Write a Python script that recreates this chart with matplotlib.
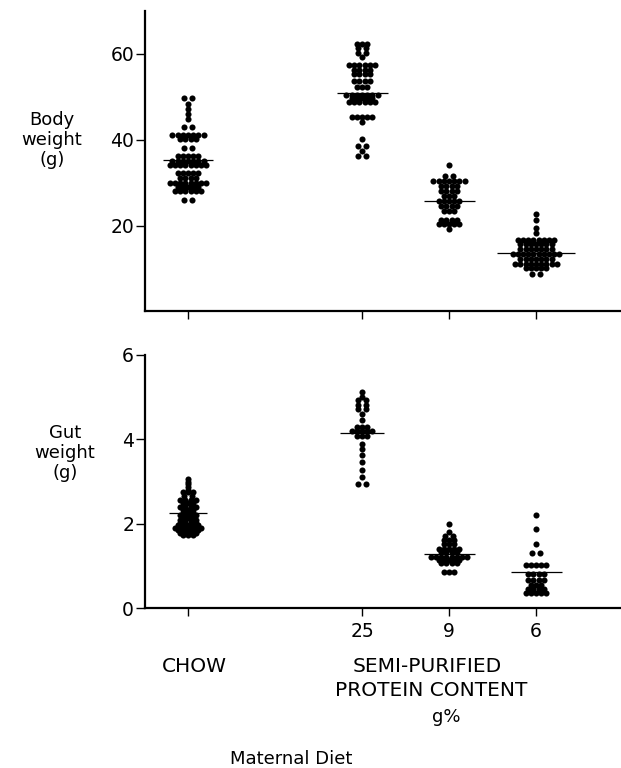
import matplotlib
matplotlib.use('Agg')
import matplotlib.pyplot as plt
import numpy as np

plt.rcParams['font.family'] = ['DejaVu Sans']

# ---------------- data ----------------
groups = ['CHOW', '25', '9', '6']
group_pos = [0, 2, 3, 4]
xtick_labels = ['', '25', '9', '6']

body_chow = [49.8, 49.8, 48.4, 47.2, 46.0, 44.9, 43.0, 43.0,
             41.2, 41.2, 41.2, 41.2, 41.2, 41.2, 41.2,
             40.2, 40.2, 40.2, 40.2, 38.1, 38.1,
             36.1, 36.1, 36.1, 36.1, 36.1,
             35.0, 35.0, 35.0, 35.0, 35.0, 35.0, 35.0,
             34.0, 34.0, 34.0, 34.0, 34.0, 34.0, 34.0, 34.0,
             32.3, 32.3, 32.3, 32.3, 32.3,
             31.0, 31.0, 31.0, 31.0,
             30.0, 30.0, 30.0, 30.0, 30.0, 30.0, 30.0, 30.0,
             29.0, 29.0, 29.0, 29.0, 29.0,
             28.1, 28.1, 28.1, 28.1, 28.1, 28.1,
             25.9, 25.9]
body_25 = [62.3, 62.3, 62.3, 61.3, 61.3, 60.2, 60.2, 59.2,
           57.4, 57.4, 57.4, 57.4, 57.4, 57.4,
           56.3, 56.3, 56.3, 56.3, 55.4, 55.4, 55.4, 55.4,
           53.6, 53.6, 53.6, 53.6, 52.3, 52.3, 52.3,
           50.5, 50.5, 50.5, 50.5, 50.5, 50.5, 50.5,
           49.7, 49.7, 49.7, 49.7, 49.7,
           48.8, 48.8, 48.8, 48.8, 48.8, 48.8,
           45.3, 45.3, 45.3, 45.3, 45.3, 44.1,
           40.2, 38.5, 38.5, 37.3, 36.1, 36.1]
body_9 = [34.0, 31.5, 31.5,
          30.3, 30.3, 30.3, 30.3, 30.3, 30.3, 30.3,
          29.2, 29.2, 29.2, 29.2, 28.0, 28.0, 28.0, 28.0,
          26.9, 26.9, 26.9, 25.7, 25.7, 25.7, 25.7, 25.7,
          24.5, 24.5, 24.5, 24.5, 23.3, 23.3, 23.3,
          21.4, 21.4, 21.4, 21.4, 20.3, 20.3, 20.3, 20.3, 20.3, 19.1]
body_6 = [22.6, 21.4, 19.5, 18.3,
          16.6, 16.6, 16.6, 16.6, 16.6, 16.6, 16.6, 16.6,
          15.6, 15.6, 15.6, 15.6, 15.6, 15.6, 15.6,
          14.6, 14.6, 14.6, 14.6, 14.6, 14.6, 14.6,
          13.3, 13.3, 13.3, 13.3, 13.3, 13.3, 13.3, 13.3, 13.3, 13.3,
          12.1, 12.1, 12.1, 12.1, 12.1, 12.1, 12.1,
          11.1, 11.1, 11.1, 11.1, 11.1, 11.1, 11.1, 11.1, 11.1,
          10.0, 10.0, 10.0, 10.0, 10.0, 8.6, 8.6]
body_means = [35.3, 51.0, 25.8, 13.5]

gut_chow = [3.07, 3.00, 2.95, 2.87, 2.80, 2.74, 2.74, 2.74, 2.66, 2.66,
            2.56, 2.56, 2.56, 2.56, 2.48, 2.48, 2.48,
            2.40, 2.40, 2.40, 2.40, 2.32, 2.32, 2.32,
            2.25, 2.25, 2.25, 2.20, 2.20, 2.20, 2.20,
            2.14, 2.14, 2.14, 2.08, 2.08, 2.08, 2.08,
            2.02, 2.02, 2.02, 2.02, 1.96, 1.96, 1.96, 1.96, 1.96,
            1.90, 1.90, 1.90, 1.90, 1.90, 1.90,
            1.84, 1.84, 1.84, 1.84, 1.84, 1.78, 1.78, 1.78, 1.78,
            1.73, 1.73, 1.73]
gut_25 = [5.13, 5.01, 4.93, 4.93, 4.81, 4.81, 4.71, 4.71, 4.59, 4.47,
          4.30, 4.30, 4.30, 4.19, 4.19, 4.19, 4.19, 4.19,
          4.07, 4.07, 4.07, 3.90, 3.78, 3.63, 3.47, 3.27, 3.10,
          2.95, 2.95]
gut_9 = [1.99, 1.81, 1.71, 1.71, 1.61, 1.61, 1.61, 1.51, 1.51, 1.51,
         1.41, 1.41, 1.41, 1.41, 1.41, 1.32, 1.32, 1.32, 1.32,
         1.22, 1.22, 1.22, 1.22, 1.22, 1.22, 1.22, 1.22,
         1.14, 1.14, 1.14, 1.14, 1.14, 1.06, 1.06, 1.06, 1.06,
         0.86, 0.86, 0.86]
gut_6 = [2.20, 1.87, 1.51, 1.30, 1.30,
         1.02, 1.02, 1.02, 1.02, 1.02, 0.80, 0.80, 0.80, 0.80,
         0.66, 0.66, 0.66, 0.66, 0.55, 0.55, 0.55,
         0.45, 0.45, 0.45, 0.45, 0.35, 0.35, 0.35, 0.35, 0.35]
gut_means = [2.26, 4.14, 1.29, 0.86]

body_ticks = [20, 40, 60]
gut_ticks = [0, 2, 4, 6]

# ---------------- layout / style ----------------
W, H = 621, 768
PX_PER_UNIT = 87.0
dot_step = 5.2 / PX_PER_UNIT
body_line_w = [50, 51, 51, 78]
gut_line_w = [38, 44, 51, 51]


def fx(px):
    return px / W


def fy(py):
    return 1 - py / H


def swarm(values, step):
    vals = np.asarray(values, dtype=float)
    xs = np.zeros_like(vals)
    for v in np.unique(vals):
        idx = np.where(vals == v)[0]
        n = len(idx)
        if n == 2:
            xs[idx] = np.array([-0.85, 0.85]) * step
        else:
            xs[idx] = (np.arange(n) - (n - 1) / 2) * step
    return xs


fig = plt.figure(figsize=(W / 100, H / 100), dpi=100)
ax1 = fig.add_axes([fx(144.5), fy(311.4), fx(621) - fx(144.5), fy(11) - fy(311.4)])
ax2 = fig.add_axes([fx(144.5), fy(608), fx(621) - fx(144.5), fy(355) - fy(608)])

xlim = (-0.5, (621 - 188) / PX_PER_UNIT)
tick_fs = 13.5


def draw(ax, data, means, widths, ylim, yticks):
    for pos, vals, m, w in zip(group_pos, data, means, widths):
        xs = swarm(vals, dot_step)
        ax.plot(pos + xs, vals, 'o', color='black', markersize=4.4,
                markeredgewidth=0, clip_on=False)
        hw = w / PX_PER_UNIT / 2
        ax.hlines(m, pos - hw, pos + hw, color='black', lw=0.9)
    ax.set_xlim(*xlim)
    ax.set_ylim(*ylim)
    ax.set_yticks(yticks)
    ax.set_xticks(group_pos)
    for s in ['top', 'right']:
        ax.spines[s].set_visible(False)
    for s in ['left', 'bottom']:
        ax.spines[s].set_linewidth(1.6)
    ax.tick_params(axis='y', direction='out', length=6.5, width=1.0, pad=1,
                   labelsize=tick_fs)
    ax.tick_params(axis='x', direction='out', length=6, width=1.0, pad=4,
                   labelsize=tick_fs)


draw(ax1, [body_chow, body_25, body_9, body_6], body_means, body_line_w,
     (0, 70), body_ticks)
ax1.set_xticklabels([])
draw(ax2, [gut_chow, gut_25, gut_9, gut_6], gut_means, gut_line_w,
     (0, 6), gut_ticks)
ax2.set_xticklabels(xtick_labels)

fs = 13
caps_fs = 14.5
fig.text(fx(52), fy(140), 'Body\nweight\n(g)', ha='center', va='center',
         fontsize=fs, linespacing=1.15)
fig.text(fx(65), fy(453), 'Gut\nweight\n(g)', ha='center', va='center',
         fontsize=fs, linespacing=1.15)
fig.text(fx(194), fy(667), groups[0], ha='center', va='center', fontsize=caps_fs)
fig.text(fx(427), fy(667), 'SEMI-PURIFIED', ha='center', va='center', fontsize=caps_fs)
fig.text(fx(431), fy(691), 'PROTEIN CONTENT', ha='center', va='center', fontsize=caps_fs)
fig.text(fx(446), fy(717), 'g%', ha='center', va='center', fontsize=fs)
fig.text(fx(291), fy(759), 'Maternal Diet', ha='center', va='center', fontsize=fs)

fig.savefig('out.png', dpi=100)
